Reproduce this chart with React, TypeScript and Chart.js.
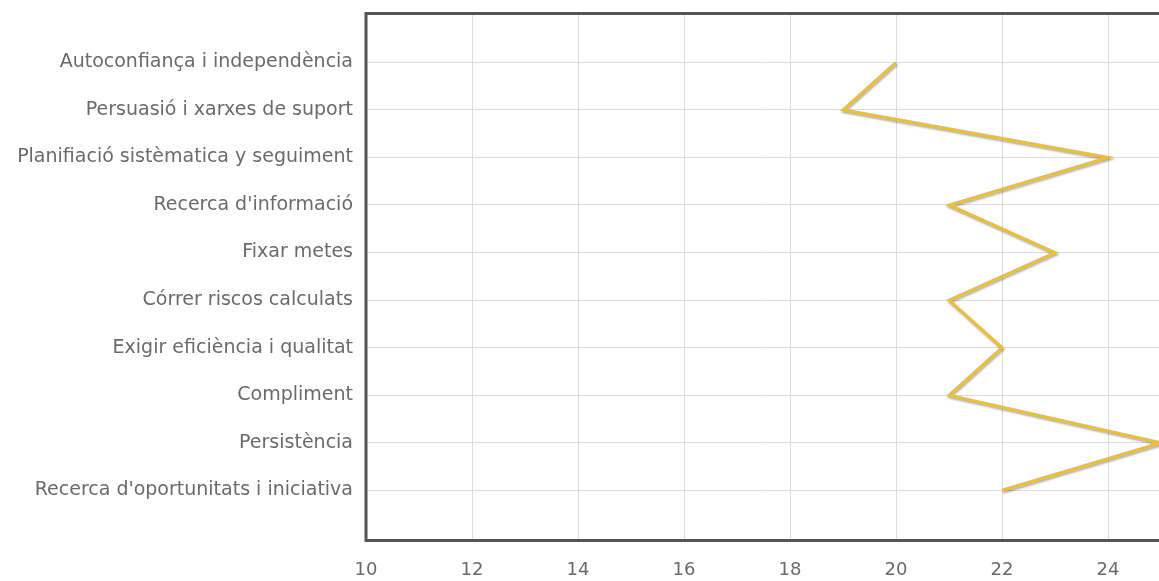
import React, { useEffect, useRef } from "react";
import { Chart, registerables } from "chart.js";

Chart.register(...registerables);

const categories: string[] = [
  "Autoconfiança i independència",
  "Persuasió i xarxes de suport",
  "Planifiació sistèmatica y seguiment",
  "Recerca d'informació",
  "Fixar metes",
  "Córrer riscos calculats",
  "Exigir eficiència i qualitat",
  "Compliment",
  "Persistència",
  "Recerca d'oportunitats i iniciativa",
];

const scores: number[] = [20, 19, 24, 21, 23, 21, 22, 21, 25, 22];

const xMin = 10;
const xMax = 25;
const xStep = 2;

const FONT = "'DejaVu Sans', Verdana, sans-serif";
const TEXT = "#6a6a6a";
const GRID = "#dcdcdc";
const LINE = "#ebbf38";

const frame = {
  id: "frame",
  beforeDatasetsDraw(chart: any) {
    const ctx = chart.ctx;
    ctx.save();
    ctx.shadowColor = "rgba(0,0,0,0.3)";
    ctx.shadowBlur = 2;
    ctx.shadowOffsetX = 1;
    ctx.shadowOffsetY = 2;
  },
  afterDatasetsDraw(chart: any) {
    const ctx = chart.ctx;
    ctx.restore();
    const a = chart.chartArea;
    ctx.save();
    ctx.strokeStyle = "#555555";
    ctx.lineWidth = 3;
    ctx.strokeRect(a.left, a.top, a.right - a.left, a.bottom - a.top);
    ctx.restore();
  },
};

export default function App() {
  const ref = useRef<HTMLCanvasElement | null>(null);

  useEffect(() => {
    if (!ref.current) return;
    const chart = new Chart(ref.current, {
      type: "line",
      data: {
        datasets: [
          {
            data: scores.map((v, i) => ({ x: v, y: i })),
            borderColor: LINE,
            borderWidth: 3,
            pointRadius: 0,
            pointHoverRadius: 0,
            tension: 0,
            fill: false,
          },
        ],
      },
      options: {
        animation: false,
        responsive: true,
        maintainAspectRatio: false,
        indexAxis: "y",
        layout: { padding: { top: 13.5, right: 9, left: 0, bottom: 0 } },
        plugins: { legend: { display: false }, tooltip: { enabled: false } },
        scales: {
          x: {
            type: "linear",
            position: "bottom",
            min: xMin,
            max: xMax,
            ticks: {
              stepSize: xStep,
              color: TEXT,
              font: { family: FONT, size: 18 },
              padding: 19,
              maxRotation: 0,
              callback: (v: any) => String(v),
            },
            afterBuildTicks: (scale: any) => {
              scale.ticks = scale.ticks.filter(
                (t: any) => t.value <= 24 && (t.value - xMin) % xStep === 0
              );
            },
            afterFit: (scale: any) => {
              scale.height = 40.5;
              scale.paddingLeft = 0;
              scale.paddingRight = 0;
            },
            grid: { color: GRID, lineWidth: 1, drawTicks: false },
            border: { display: false },
          },
          y: {
            type: "linear",
            position: "left",
            reverse: true,
            min: -1.026,
            max: 10.056,
            afterBuildTicks: (scale: any) => {
              scale.ticks = categories.map((_, i) => ({ value: i }));
            },
            ticks: {
              color: TEXT,
              font: { family: FONT, size: 19 },
              padding: 13,
              autoSkip: false,
              callback: (v: any) => categories[v] ?? "",
            },
            afterFit: (scale: any) => {
              scale.width = 366;
              scale.paddingTop = 0;
              scale.paddingBottom = 0;
            },
            grid: { color: GRID, lineWidth: 1, drawTicks: false },
            border: { display: false },
          },
        },
      },
      plugins: [frame],
    });
    return () => chart.destroy();
  }, []);

  return (
    <div
      style={{
        position: "fixed",
        left: 0,
        top: 0,
        width: 1159,
        height: 581,
        overflow: "hidden",
        background: "#fff",
      }}
    >
      <div style={{ position: "relative", width: 1170, height: 581 }}>
        <canvas ref={ref} />
      </div>
    </div>
  );
}
